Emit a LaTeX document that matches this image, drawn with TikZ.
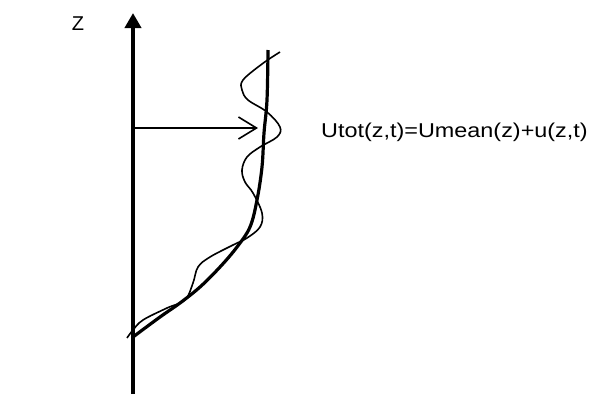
\documentclass[tikz,border=0pt]{standalone}
\usepackage{fontspec}
\setmainfont{Liberation Sans}
\usetikzlibrary{arrows.meta}
\begin{document}
\begin{tikzpicture}[x=1pt,y=-1pt,
  axisline/.style={line width=4.3pt,-{Triangle[length=15pt,width=16pt]}},
  meanline/.style={line width=3.2pt},
  waveline/.style={line width=1.6pt},
  velarrow/.style={line width=1.6pt,-{Straight Barb[length=18pt,width=22pt,line width=1.6pt]}},
  lbl/.style={inner sep=0pt,font=\fontsize{20}{24}\selectfont}]
\useasboundingbox (0,0) rectangle (592,394);
\coordinate (axb) at (133,394);
\coordinate (axt) at (133,13);
\draw[axisline] (axb) -- (axt);
\node[lbl] (zl) at (78,24) {Z};
\coordinate (va) at (133,128);
\coordinate (vb) at (258,128);
\draw[velarrow] (va) -- (vb);
\draw[meanline] plot[smooth,tension=0.6] coordinates {(268,50) (267,100) (264,133) (262,167) (257,200) (250,227) (237,247) (220,267) (200,287) (180,303) (160,317) (133,337)};
\draw[waveline] plot[smooth,tension=0.6] coordinates {(280,52) (262,64) (243,80) (242,90) (248,100) (267,112) (280,127) (277,137) (260,147) (247,157) (242,170) (245,182) (253,193) (262,213) (260,227) (247,238) (233,245) (210,257) (198,267) (193,283) (185,300) (167,308) (143,320) (133,330) (127,338)};
\node[lbl,anchor=west] (eq) at (321,132) {\scalebox{1.17}[1]{Utot(z,t)=Umean(z)+u(z,t)}};
\end{tikzpicture}
\end{document}
